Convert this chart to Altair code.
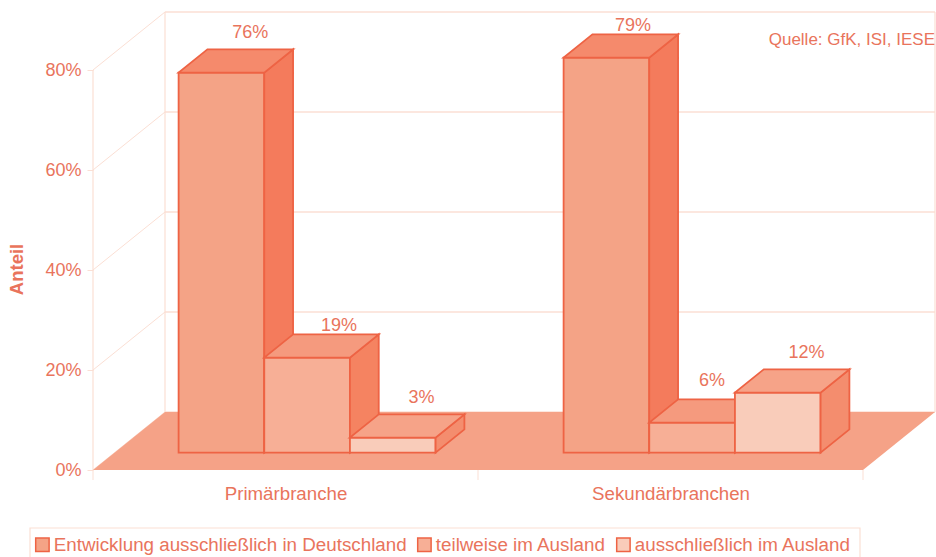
import altair as alt
import pandas as pd

# Shares per sector and development location
groups = ["Primärbranche", "Sekundärbranchen"]
series = [
    "Entwicklung ausschließlich in Deutschland",
    "teilweise im Ausland",
    "ausschließlich im Ausland",
]
values = {
    series[0]: [76, 79],
    series[1]: [19, 6],
    series[2]: [3, 12],
}
ticks_pct = [0, 20, 40, 60, 80]

# Oblique projection: depth 0 is the front plane, depth 1 the back wall
DEPTH_X = 72 / 385
DEPTH_Y = 58 / 5
BAR_FRONT, BAR_BACK = 0.3, 0.7
BAR_W = 0.2225
X_MAX = 843 / 385
Y_MAX = 94

TEXT = "#E9745C"
GRID = "#FBDFD4"
EDGE = "#EE6344"
FLOOR = "#F5A287"
FRONT = ["#F4A386", "#F7AF96", "#F9CCBA"]
SIDE = ["#F47B5C", "#F58361", "#F48D6E"]
TOP = ["#F58A6C", "#F59A7E", "#F6A388"]
FONT = "Liberation Sans"

xs = alt.Scale(domain=[0, X_MAX], nice=False, zero=False)
ys = alt.Scale(domain=[0, Y_MAX], nice=False, zero=False)

# Shared axis definitions; every layer carries the same ones so that they merge
axis_x = alt.Axis(
    values=[0.5, 1.5],
    labelExpr="datum.value < 1 ? '%s' : '%s'" % tuple(groups),
    ticks=False, domain=False, grid=False, title=None,
    labelFont=FONT, labelFontSize=18.7, labelColor=TEXT, labelPadding=14,
)
axis_y = alt.Axis(
    values=ticks_pct,
    labelExpr="datum.value + '%'",
    domain=False, grid=False,
    tickColor=GRID, tickSize=6, labelPadding=6,
    labelFont=FONT, labelFontSize=18, labelColor=TEXT,
    title="Anteil", titleFont=FONT, titleFontSize=18.5, titleFontWeight="bold",
    titleColor=TEXT, titleX=-67, titleY=269, titleAngle=270,
)


def X(field):
    return alt.X(field, type="quantitative", scale=xs, axis=axis_x)


def Y(field):
    return alt.Y(field, type="quantitative", scale=ys, axis=axis_y, stack=None)


# Walls: horizontal grid on the back wall, diagonals on the side wall
back_y = [v + DEPTH_Y for v in ticks_pct]
grid_df = pd.DataFrame({"x": [DEPTH_X] * 5, "x2": [DEPTH_X + 2] * 5, "y": back_y, "t": ticks_pct})
grid_lines = alt.Chart(grid_df).mark_rule(color=GRID, strokeWidth=1.5).encode(
    x=X("x"), x2="x2:Q", y=Y("y")
)

diag_rows = []
for v in ticks_pct:
    diag_rows += [{"id": v, "x": 0, "y": v}, {"id": v, "x": DEPTH_X, "y": v + DEPTH_Y}]
diagonals = alt.Chart(pd.DataFrame(diag_rows)).mark_line(color=GRID, strokeWidth=1).encode(
    x=X("x"), y=Y("y"), detail="id:N"
)

verticals_df = pd.DataFrame({
    "x": [0, DEPTH_X, DEPTH_X + 2],
    "y": [0, DEPTH_Y, DEPTH_Y],
    "y2": [80, 80 + DEPTH_Y, 80 + DEPTH_Y],
})
verticals = alt.Chart(verticals_df).mark_rule(color=GRID, strokeWidth=1.2).encode(
    x=X("x"), y=Y("y"), y2="y2:Q"
)

# Tick marks under the front edge of the floor
ticks_df = pd.DataFrame({"x": [0, 1, 2], "y": [0] * 3, "y2": [-2] * 3})
x_ticks = alt.Chart(ticks_df).mark_rule(color=GRID, strokeWidth=1, clip=False).encode(
    x=X("x"), y=Y("y"), y2="y2:Q"
)

floor_df = pd.DataFrame({
    "y": [0, DEPTH_Y],
    "x": [0, DEPTH_X],
    "x2": [2, 2 + DEPTH_X],
    "id": [0, 0],
})
floor = alt.Chart(floor_df).mark_area(orient="horizontal", color=FLOOR).encode(
    y=Y("y"), x=X("x"), x2="x2:Q", detail="id:N"
)

# Frame around the legend; its lower edge runs off the page
legend_box = alt.Chart(pd.DataFrame({"k": [0]})).mark_rect(
    fill="white", stroke=GRID, strokeWidth=1.2, clip=False
).encode(
    x=alt.value(-63), x2=alt.value(767), y=alt.value(528), y2=alt.value(565)
)

# One front, side and top face per series, drawn left to right
layers = [grid_lines, diagonals, verticals, x_ticks, floor, legend_box]
color = alt.Color(
    "series:N",
    scale=alt.Scale(domain=series, range=FRONT),
    legend=alt.Legend(
        orient="none", legendX=-60, legendY=535, direction="horizontal",
        title=None, columns=3, columnPadding=7,
        padding=0,
        symbolType="square", symbolSize=180, symbolStrokeColor=EDGE, symbolStrokeWidth=1.5,
        symbolOpacity=1, labelFont=FONT, labelFontSize=18.8, labelColor=TEXT,
        labelLimit=500, labelOffset=2,
    ),
)

x0_front = BAR_FRONT * DEPTH_X
x0_back = BAR_BACK * DEPTH_X
y0_front = BAR_FRONT * DEPTH_Y
y0_back = BAR_BACK * DEPTH_Y

for i, name in enumerate(series):
    front_rows, side_rows, top_rows = [], [], []
    for g, v in enumerate(values[name]):
        left = g + 0.5 - 1.5 * BAR_W + i * BAR_W
        right = left + BAR_W
        front_rows.append({
            "series": name, "x": left + x0_front, "x2": right + x0_front,
            "y": y0_front, "y2": y0_front + v,
        })
        side_rows += [
            {"id": g, "x": right + x0_front, "y": y0_front, "y2": y0_front + v},
            {"id": g, "x": right + x0_back, "y": y0_back, "y2": y0_back + v},
        ]
        top_rows += [
            {"id": g, "y": y0_front + v, "x": left + x0_front, "x2": right + x0_front},
            {"id": g, "y": y0_back + v, "x": left + x0_back, "x2": right + x0_back},
        ]
    layers.append(
        alt.Chart(pd.DataFrame(front_rows)).mark_rect(stroke=EDGE, strokeWidth=1.8).encode(
            x=X("x"), x2="x2:Q", y=Y("y"), y2="y2:Q", color=color
        )
    )
    layers.append(
        alt.Chart(pd.DataFrame(side_rows)).mark_area(
            color=SIDE[i], stroke=EDGE, strokeWidth=1.8, opacity=1
        ).encode(x=X("x"), y=Y("y"), y2="y2:Q", detail="id:N")
    )
    layers.append(
        alt.Chart(pd.DataFrame(top_rows)).mark_area(
            orient="horizontal", color=TOP[i], stroke=EDGE, strokeWidth=1.8, opacity=1
        ).encode(y=Y("y"), x=X("x"), x2="x2:Q", detail="id:N")
    )

# Value labels above the back edge of each bar; crowded ones sit closer or shift sideways
lift = {(0, 1): 1.6, (1, 0): 1.6, (1, 1): 3.6}
shift = {(1, 1): -0.023, (1, 0): -0.006, (0, 1): 0.008}
label_rows = []
for i, name in enumerate(series):
    for g, v in enumerate(values[name]):
        left = g + 0.5 - 1.5 * BAR_W + i * BAR_W
        label_rows.append({
            "x": left + BAR_W / 2 + x0_back + shift.get((g, i), 0),
            "y": y0_back + v + lift.get((g, i), 3.3),
            "label": "%d%%" % v,
        })
labels = alt.Chart(pd.DataFrame(label_rows)).mark_text(
    font=FONT, fontSize=18, color=TEXT, baseline="middle"
).encode(x=X("x"), y=Y("y"), text="label:N")

source = alt.Chart(pd.DataFrame({"t": ["Quelle: GfK, ISI, IESE"]})).mark_text(
    font=FONT, fontSize=17, color=TEXT, align="right", baseline="middle"
).encode(x=alt.value(842), y=alt.value(40), text="t:N")

chart = alt.layer(*layers, labels, source).properties(
    width=843,
    height=470,
    padding={"left": 93, "top": 0, "right": 0, "bottom": 87},
    autosize=alt.AutoSizeParams(type="none"),
    background="white",
).configure_view(stroke=None)

chart.save("out.html", embed_options={"renderer": "svg", "actions": False})
